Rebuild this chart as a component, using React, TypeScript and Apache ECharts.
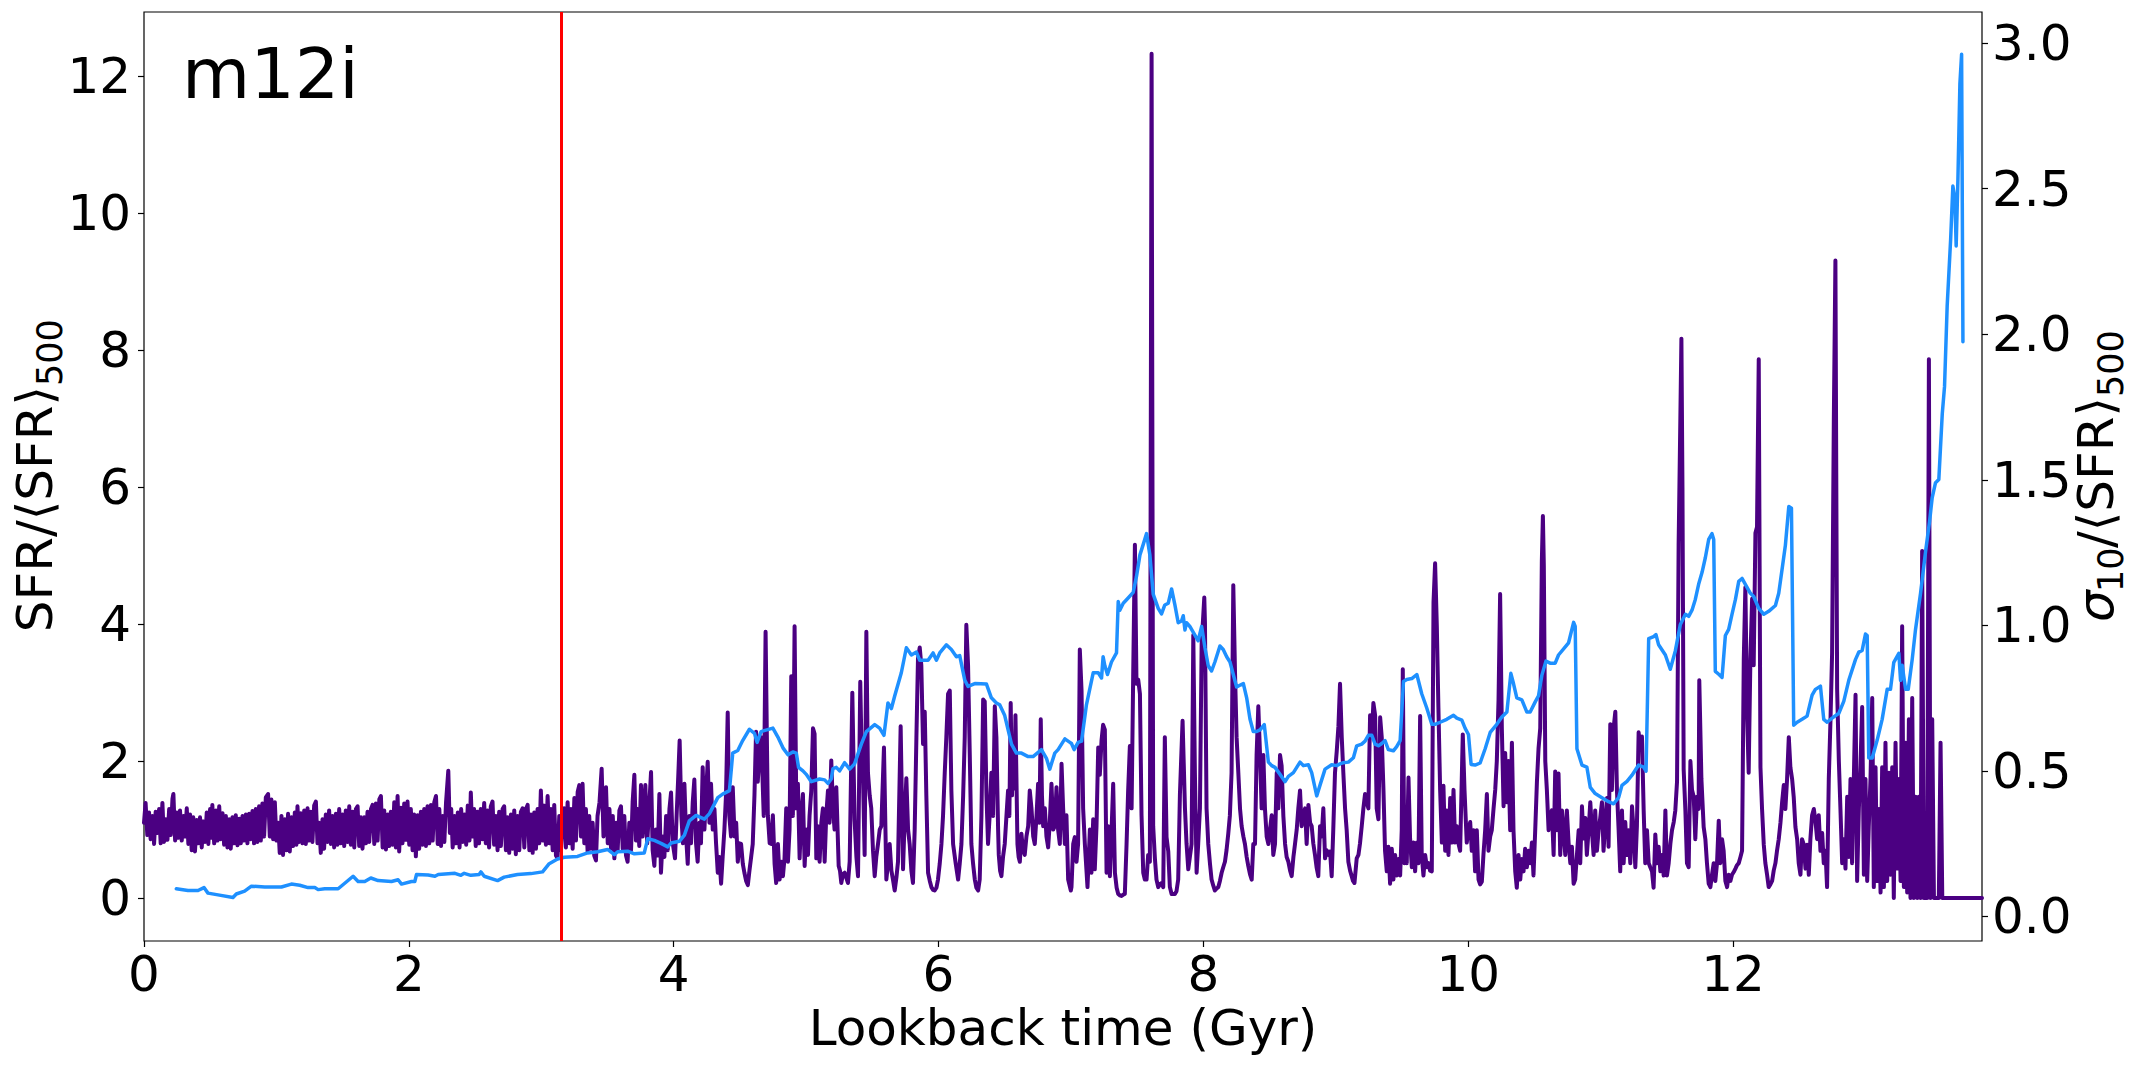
import React, { useEffect, useRef } from "react";
import * as echarts from "echarts";

const FONT = "'DejaVu Sans', sans-serif";

const xTicks = [0, 2, 4, 6, 8, 10, 12];
const leftTicks = [0, 2, 4, 6, 8, 10, 12];
const rightTicks = [0, 0.5, 1, 1.5, 2, 2.5, 3];
const xRange = [0, 13.88];
const leftRange = [-0.627, 12.94];
const rightRange = [-0.0845, 3.107];
const redLineX = 3.147;
const panelLabel = "m12i";
const xTitle = "Lookback time (Gyr)";

// SFR / <SFR>_500 (left axis)
const sfrA = [[0.000,1.10],[0.012,1.39],[0.025,0.92],[0.038,1.25],[0.050,0.86],[0.063,1.20],[0.076,0.79],[0.088,1.26],[0.101,0.95],[0.114,1.30],[0.126,0.80],[0.139,1.39],[0.151,0.82],[0.164,1.15],[0.177,0.85],[0.190,1.30],[0.202,0.92],[0.215,1.45],[0.222,1.52],[0.235,0.84],[0.248,1.25],[0.260,0.88],[0.272,1.28],[0.285,0.84],[0.298,1.20],[0.310,0.90],[0.323,1.31],[0.335,0.79],[0.348,1.22],[0.360,0.70],[0.372,1.18],[0.385,0.68],[0.398,1.14],[0.410,0.80],[0.423,1.18],[0.436,0.74],[0.448,1.12],[0.461,0.82],[0.474,1.25],[0.486,0.79],[0.499,1.30],[0.511,0.88],[0.516,1.36],[0.530,0.80],[0.543,1.28],[0.555,0.84],[0.568,1.34],[0.580,0.86],[0.593,1.24],[0.605,0.78],[0.618,1.20],[0.630,0.74],[0.643,1.15],[0.655,0.72],[0.668,1.18],[0.681,0.80],[0.693,1.21],[0.706,0.77],[0.719,1.16],[0.731,0.80],[0.744,1.20],[0.756,0.84],[0.769,1.22],[0.781,0.80],[0.794,1.23],[0.806,0.86],[0.819,1.27],[0.831,0.80],[0.844,1.30],[0.856,0.82],[0.869,1.34],[0.882,0.84],[0.894,1.38],[0.907,0.90],[0.920,1.47],[0.937,1.52],[0.950,0.90],[0.962,1.44],[0.975,0.86],[0.988,1.40],[1.000,0.84],[1.013,1.10],[1.025,0.66],[1.038,1.20],[1.050,0.63],[1.063,1.15],[1.076,0.70],[1.088,1.23],[1.101,0.68],[1.114,1.18],[1.126,0.76],[1.139,1.25],[1.151,0.78],[1.159,1.34],[1.172,0.82],[1.184,1.24],[1.197,0.80],[1.210,1.28],[1.222,0.79],[1.235,1.31],[1.247,0.84],[1.260,1.26],[1.272,0.82],[1.285,1.35],[1.298,1.41],[1.310,0.80],[1.322,1.10],[1.335,0.66],[1.348,1.15],[1.360,0.72],[1.373,1.22],[1.386,0.82],[1.398,1.28],[1.411,0.79],[1.423,1.20],[1.436,0.74],[1.449,1.23],[1.461,0.78],[1.474,1.30],[1.487,0.80],[1.499,1.22],[1.512,0.76],[1.524,1.28],[1.537,0.82],[1.550,1.34],[1.562,0.78],[1.575,1.26],[1.588,0.74],[1.600,1.30],[1.613,1.34],[1.625,0.76],[1.638,1.18],[1.650,0.72],[1.663,1.18],[1.676,0.80],[1.688,1.26],[1.701,0.82],[1.714,1.30],[1.726,1.36],[1.739,0.79],[1.751,1.38],[1.764,0.84],[1.777,1.44],[1.789,1.49],[1.802,0.74],[1.814,1.28],[1.827,0.71],[1.840,1.22],[1.852,0.76],[1.864,1.26],[1.877,0.78],[1.890,1.40],[1.902,0.74],[1.915,1.49],[1.927,0.68],[1.940,1.32],[1.952,0.80],[1.965,1.38],[1.977,0.85],[1.990,1.41],[2.003,0.78],[2.015,1.30],[2.028,0.70],[2.040,1.22],[2.053,0.61],[2.066,1.21],[2.078,0.72],[2.091,1.26],[2.103,0.78],[2.116,1.30],[2.129,0.76],[2.141,1.34],[2.154,0.80],[2.167,1.36],[2.180,0.84],[2.192,1.40],[2.205,1.49],[2.218,0.79],[2.230,1.30],[2.243,0.76],[2.256,1.20],[2.268,0.82],[2.281,1.40],[2.298,1.86],[2.310,0.95],[2.320,1.30],[2.331,0.74]];

const sfrB = [[2.345,1.20],[2.358,0.80],[2.370,1.25],[2.383,0.74],[2.395,1.30],[2.408,0.82],[2.420,1.22],[2.433,0.78],[2.445,1.35],[2.458,0.84],[2.468,1.54],[2.480,0.90],[2.493,1.30],[2.505,0.76],[2.518,1.26],[2.530,0.80],[2.543,1.30],[2.556,0.86],[2.569,1.39],[2.581,0.80],[2.594,1.28],[2.606,0.74],[2.619,1.34],[2.632,1.41],[2.644,0.78],[2.657,1.20],[2.670,0.70],[2.682,1.26],[2.695,0.76],[2.708,1.30],[2.720,1.34],[2.733,0.70],[2.745,1.18],[2.758,0.66],[2.771,1.22],[2.783,0.72],[2.796,1.28],[2.808,0.64],[2.821,1.20],[2.834,0.70],[2.846,1.26],[2.859,1.31],[2.872,0.74],[2.884,1.30],[2.897,1.36],[2.910,0.70],[2.922,1.22],[2.935,0.66],[2.947,1.25],[2.960,0.72],[2.972,1.30],[2.985,0.80],[2.997,1.57],[3.010,0.84],[3.023,1.35],[3.035,0.78],[3.048,1.49],[3.061,0.80],[3.073,1.30],[3.086,0.70],[3.098,1.36],[3.111,0.62],[3.123,0.58],[3.136,1.20],[3.149,0.70],[3.161,1.25],[3.174,1.31],[3.186,0.74],[3.199,1.40],[3.212,0.80],[3.224,1.30],[3.237,0.72],[3.250,1.46],[3.262,0.84],[3.275,1.55],[3.287,1.65],[3.300,0.90],[3.312,1.67],[3.325,0.80],[3.337,1.30],[3.350,0.68],[3.362,1.20],[3.375,0.72],[3.388,1.10],[3.400,0.62],[3.413,0.55],[3.425,1.20],[3.440,1.40],[3.456,1.89],[3.470,0.90],[3.489,1.62],[3.502,0.80],[3.515,1.30],[3.527,0.72],[3.540,1.20],[3.552,0.58],[3.565,1.10],[3.577,0.70],[3.590,1.28],[3.602,1.34],[3.615,0.72],[3.627,1.20],[3.640,0.62],[3.652,0.53],[3.665,1.10],[3.678,0.70],[3.690,1.40],[3.703,1.80],[3.715,0.84],[3.728,1.30],[3.740,0.76],[3.753,1.65],[3.766,0.90],[3.786,1.65],[3.800,0.80],[3.814,1.30],[3.829,1.84],[3.841,0.70],[3.854,0.47],[3.866,1.00],[3.879,0.62],[3.892,1.52],[3.904,0.37],[3.918,0.90],[3.930,0.60],[3.943,1.20],[3.955,0.70],[3.968,1.30],[3.980,1.54],[3.993,0.80],[4.010,0.58],[4.022,1.20],[4.035,1.80],[4.045,2.30],[4.058,1.20],[4.070,0.80],[4.081,1.67],[4.094,0.90],[4.106,0.50],[4.118,1.20],[4.131,0.80],[4.144,1.40],[4.156,1.73],[4.169,0.80],[4.181,0.53],[4.194,1.10],[4.206,0.80],[4.219,1.91],[4.232,1.00],[4.244,1.50],[4.257,1.99],[4.270,1.10],[4.282,1.67],[4.295,1.00],[4.308,1.30],[4.320,0.80],[4.333,0.37],[4.345,0.60],[4.358,0.21],[4.370,0.60],[4.383,1.00],[4.395,1.50],[4.408,2.71],[4.420,1.20],[4.433,0.90],[4.446,1.62],[4.460,0.90],[4.472,1.10],[4.484,0.53],[4.496,0.80],[4.509,0.79],[4.522,0.50],[4.534,0.37],[4.547,0.25],[4.560,0.19],[4.572,0.40],[4.585,0.60],[4.597,0.79],[4.610,1.50],[4.622,2.43],[4.635,1.70],[4.648,2.14]];

const sfrC = [[4.661,2.35],[4.680,1.20],[4.694,3.89],[4.711,1.21],[4.725,0.80],[4.737,0.79],[4.749,1.21],[4.762,0.50],[4.774,0.22],[4.787,0.79],[4.800,0.27],[4.812,0.53],[4.825,0.32],[4.837,0.58],[4.850,1.31],[4.863,0.53],[4.875,1.00],[4.888,3.24],[4.893,2.35],[4.900,1.20],[4.913,3.97],[4.926,1.31],[4.938,1.67],[4.951,0.58],[4.963,1.20],[4.976,1.52],[4.989,0.47],[5.001,1.00],[5.014,0.63],[5.026,1.20],[5.039,1.57],[5.052,2.48],[5.064,2.40],[5.077,0.58],[5.089,1.05],[5.102,0.53],[5.115,1.10],[5.127,1.31],[5.140,0.53],[5.152,1.20],[5.165,1.57],[5.177,1.10],[5.190,2.01],[5.203,1.31],[5.215,1.00],[5.228,1.62],[5.246,0.47],[5.256,0.40],[5.266,0.22],[5.278,0.35],[5.291,0.37],[5.303,0.30],[5.316,0.22],[5.329,0.53],[5.349,3.00],[5.366,1.15],[5.380,0.60],[5.392,0.32],[5.409,3.16],[5.417,2.35],[5.429,1.83],[5.442,0.63],[5.455,3.89],[5.467,1.83],[5.480,1.50],[5.492,1.31],[5.505,0.70],[5.518,0.32],[5.530,0.60],[5.543,0.79],[5.556,1.00],[5.568,1.05],[5.588,2.20],[5.606,0.27],[5.618,0.50],[5.631,0.79],[5.644,0.40],[5.656,0.27],[5.669,0.11],[5.682,0.30],[5.694,0.53],[5.714,2.51],[5.732,0.42],[5.745,1.20],[5.757,1.75],[5.770,1.00],[5.782,0.79],[5.795,0.40],[5.807,0.22],[5.820,1.00],[5.833,2.35],[5.845,3.50],[5.858,3.66],[5.870,3.40],[5.883,2.25],[5.896,2.72],[5.908,1.50],[5.921,0.37],[5.934,0.25],[5.946,0.16],[5.959,0.12],[5.971,0.11],[5.984,0.15],[5.996,0.27],[6.009,0.50],[6.022,0.79],[6.034,1.20],[6.047,1.83],[6.059,2.35],[6.072,2.98],[6.085,3.03],[6.097,1.57],[6.110,0.79],[6.130,0.50],[6.148,0.27],[6.160,0.50],[6.173,0.79],[6.186,1.50],[6.198,2.35],[6.210,3.99],[6.223,3.40],[6.236,2.09],[6.248,0.79],[6.261,0.50],[6.274,0.27],[6.286,0.15],[6.299,0.11],[6.311,0.27],[6.324,1.20],[6.337,2.90],[6.349,2.87],[6.362,1.50],[6.374,0.79],[6.386,1.20],[6.399,1.83],[6.412,1.20],[6.425,2.80],[6.437,2.35],[6.450,1.00],[6.455,0.63],[6.465,0.40],[6.475,0.32],[6.487,0.60],[6.500,0.79],[6.513,1.20],[6.525,1.57],[6.535,1.20],[6.545,2.85],[6.555,1.50],[6.563,2.35],[6.572,1.60],[6.581,2.67],[6.596,0.79],[6.605,0.60],[6.614,0.53],[6.626,0.94],[6.638,0.70],[6.651,0.63],[6.664,0.90],[6.677,1.05],[6.689,1.57],[6.702,1.31],[6.715,0.90],[6.727,0.79],[6.740,1.20],[6.752,1.67],[6.762,1.10],[6.772,2.61],[6.781,1.50],[6.790,1.05],[6.803,1.31],[6.815,0.90],[6.828,0.74],[6.840,1.10],[6.853,1.67],[6.866,1.00],[6.878,1.05],[6.891,1.62],[6.903,1.00],[6.916,0.79],[6.929,1.96],[6.941,1.31],[6.954,0.79],[6.966,1.21],[6.979,0.27],[6.999,0.11]];

const sfrD = [[7.004,0.16],[7.017,0.79],[7.029,0.89],[7.042,0.53],[7.054,0.79],[7.067,3.63],[7.080,3.03],[7.092,1.31],[7.105,0.79],[7.125,0.16],[7.143,1.00],[7.155,0.37],[7.168,1.15],[7.180,0.42],[7.193,1.05],[7.206,2.20],[7.218,1.80],[7.231,2.30],[7.243,2.53],[7.256,2.46],[7.269,0.37],[7.281,1.05],[7.294,0.32],[7.306,0.94],[7.319,1.67],[7.332,0.37],[7.345,0.15],[7.357,0.06],[7.370,0.04],[7.382,0.03],[7.395,0.05],[7.407,0.06],[7.420,0.79],[7.432,1.57],[7.445,2.22],[7.458,1.31],[7.470,3.24],[7.483,5.16],[7.495,3.13],[7.508,3.19],[7.521,2.98],[7.533,1.21],[7.546,0.37],[7.558,0.27],[7.571,0.27],[7.583,0.63],[7.596,0.53],[7.609,12.33],[7.621,1.05],[7.634,0.58],[7.646,0.27],[7.659,0.16],[7.672,0.20],[7.684,0.22],[7.697,0.16],[7.709,2.35],[7.722,0.89],[7.735,0.68],[7.747,0.16],[7.760,0.06],[7.772,0.06],[7.785,0.06],[7.797,0.10],[7.810,0.27],[7.823,1.52],[7.843,2.59],[7.861,1.31],[7.873,0.79],[7.886,0.42],[7.898,0.60],[7.911,0.79],[7.924,3.84],[7.936,1.83],[7.949,0.37],[7.961,0.79],[7.974,1.31],[7.987,3.71],[8.007,4.39],[8.012,4.02],[8.024,1.31],[8.037,0.79],[8.050,0.50],[8.062,0.27],[8.075,0.18],[8.087,0.11],[8.100,0.14],[8.113,0.16],[8.125,0.25],[8.138,0.37],[8.150,0.45],[8.163,0.53],[8.175,0.70],[8.188,0.94],[8.200,1.20],[8.213,1.83],[8.226,4.57],[8.239,3.29],[8.251,2.35],[8.264,1.83],[8.277,1.30],[8.289,1.05],[8.302,0.90],[8.314,0.79],[8.327,0.60],[8.339,0.47],[8.352,0.35],[8.365,0.27],[8.377,0.79],[8.390,0.79],[8.402,2.09],[8.415,2.80],[8.428,2.09],[8.440,1.31],[8.453,2.09],[8.465,1.31],[8.478,0.90],[8.491,0.79],[8.503,1.00],[8.516,1.21],[8.528,0.63],[8.541,0.79],[8.554,1.83],[8.566,1.31],[8.579,2.09],[8.591,1.93],[8.604,1.20],[8.617,0.79],[8.629,0.60],[8.642,0.53],[8.655,0.40],[8.667,0.32],[8.680,0.60],[8.692,0.79],[8.705,1.00],[8.717,1.31],[8.730,1.57],[8.742,1.05],[8.755,1.20],[8.768,1.31],[8.780,0.79],[8.793,1.36],[8.806,1.10],[8.818,1.05],[8.830,0.80],[8.843,0.63],[8.855,0.45],[8.868,0.32],[8.881,1.05],[8.893,0.90],[8.906,1.31],[8.919,0.58],[8.931,0.70],[8.944,0.63],[8.957,0.68],[8.969,0.32],[8.981,1.00],[8.994,1.83],[9.007,2.14],[9.020,2.51],[9.032,3.13],[9.045,2.35],[9.057,1.83],[9.070,1.31],[9.082,1.00],[9.095,0.53],[9.108,0.40],[9.120,0.32],[9.130,0.25],[9.141,0.22],[9.158,0.58],[9.171,0.63],[9.183,0.80],[9.196,1.05],[9.208,1.30],[9.221,1.52],[9.234,1.40],[9.246,1.31],[9.259,2.67],[9.272,2.35],[9.284,2.85],[9.297,2.67],[9.309,1.31],[9.322,1.15],[9.335,2.64],[9.347,2.35]];

const sfrE = [[9.360,1.58],[9.372,0.69],[9.385,0.39],[9.397,0.75],[9.410,0.21],[9.423,0.72],[9.435,0.27],[9.448,0.63],[9.460,0.33],[9.473,0.57],[9.486,0.33],[9.498,0.99],[9.506,3.34],[9.518,0.51],[9.528,0.99],[9.536,0.51],[9.549,1.76],[9.561,0.87],[9.574,0.45],[9.586,0.81],[9.599,0.39],[9.612,0.81],[9.624,0.51],[9.637,2.66],[9.649,0.63],[9.662,0.33],[9.675,0.63],[9.688,0.45],[9.700,0.51],[9.712,0.40],[9.725,0.39],[9.738,4.32],[9.750,4.89],[9.763,3.97],[9.775,2.78],[9.788,1.58],[9.801,0.81],[9.813,1.64],[9.826,0.69],[9.838,1.28],[9.851,0.63],[9.864,1.46],[9.876,0.81],[9.889,1.58],[9.901,0.81],[9.914,1.05],[9.926,0.80],[9.939,0.69],[9.959,2.39],[9.972,1.58],[9.989,0.81],[10.002,0.99],[10.015,1.11],[10.027,0.69],[10.040,0.99],[10.052,0.39],[10.065,0.99],[10.078,0.27],[10.090,0.20],[10.103,0.24],[10.115,0.63],[10.128,0.99],[10.141,1.52],[10.153,0.69],[10.166,0.90],[10.178,0.99],[10.191,1.30],[10.204,1.58],[10.216,2.00],[10.229,2.89],[10.241,4.44],[10.254,2.48],[10.267,1.34],[10.279,2.12],[10.292,1.40],[10.304,2.00],[10.317,0.99],[10.330,2.27],[10.342,0.99],[10.355,0.39],[10.367,0.15],[10.380,0.63],[10.393,0.27],[10.405,0.57],[10.418,0.39],[10.430,0.72],[10.443,0.45],[10.456,0.69],[10.468,0.51],[10.481,0.81],[10.493,0.33],[10.506,0.99],[10.519,1.70],[10.531,2.18],[10.544,2.48],[10.556,4.92],[10.564,5.58],[10.571,4.86],[10.582,2.00],[10.594,1.58],[10.607,0.99],[10.620,1.20],[10.632,1.28],[10.645,0.63],[10.657,1.85],[10.670,0.99],[10.682,1.82],[10.695,0.63],[10.708,1.28],[10.720,0.99],[10.733,0.63],[10.745,1.28],[10.758,0.81],[10.771,0.51],[10.783,0.75],[10.796,0.21],[10.808,0.27],[10.821,0.63],[10.834,0.99],[10.846,0.51],[10.859,1.34],[10.871,0.87],[10.884,1.17],[10.896,0.63],[10.909,0.99],[10.922,1.40],[10.934,0.99],[10.947,0.63],[10.959,1.28],[10.972,0.69],[10.985,0.99],[10.997,1.17],[11.010,1.40],[11.022,0.69],[11.035,1.11],[11.048,1.46],[11.060,0.75],[11.073,2.54],[11.085,1.58],[11.098,2.48],[11.111,2.72],[11.123,1.58],[11.136,0.99],[11.148,0.39],[11.161,1.28],[11.174,0.51],[11.186,1.11],[11.199,0.63],[11.211,0.99],[11.224,0.51],[11.237,1.34],[11.249,0.99],[11.262,0.45],[11.274,1.05],[11.287,2.42],[11.300,2.18],[11.312,2.36],[11.325,1.28],[11.337,0.51],[11.350,0.99],[11.363,0.51],[11.375,0.45],[11.388,0.39],[11.400,0.15],[11.413,0.93],[11.426,0.51],[11.438,0.75],[11.451,0.39],[11.463,0.63],[11.476,0.33],[11.489,1.28],[11.501,0.33],[11.514,0.51],[11.527,0.80],[11.539,0.99],[11.552,1.11],[11.564,1.28],[11.577,1.70],[11.589,5.16],[11.602,7.00],[11.610,8.17],[11.618,6.00],[11.627,1.88],[11.640,1.28],[11.652,0.51],[11.665,0.45],[11.678,2.00],[11.690,1.58]];

const sfrF = [[11.703,1.48],[11.715,0.86],[11.728,1.48],[11.740,1.30],[11.745,3.18],[11.761,1.74],[11.778,1.04],[11.791,0.86],[11.803,0.51],[11.816,0.21],[11.829,0.16],[11.841,0.34],[11.854,0.51],[11.866,0.25],[11.879,0.51],[11.892,1.13],[11.904,0.51],[11.917,0.86],[11.929,0.69],[11.942,0.25],[11.955,0.16],[11.967,0.34],[11.980,0.25],[11.992,0.34],[12.005,0.38],[12.018,0.43],[12.030,0.48],[12.043,0.51],[12.056,0.60],[12.068,0.69],[12.081,3.49],[12.093,4.54],[12.106,2.70],[12.118,1.83],[12.131,3.49],[12.144,4.37],[12.156,3.40],[12.169,5.33],[12.181,5.42],[12.194,7.87],[12.207,1.91],[12.219,1.30],[12.232,0.78],[12.244,0.51],[12.257,0.34],[12.269,0.16],[12.282,0.20],[12.295,0.25],[12.307,0.40],[12.320,0.51],[12.332,0.69],[12.345,0.86],[12.358,1.10],[12.370,1.39],[12.383,1.65],[12.395,1.30],[12.408,1.74],[12.421,2.35],[12.433,1.91],[12.446,1.74],[12.458,1.48],[12.471,1.04],[12.484,0.86],[12.496,0.51],[12.509,0.34],[12.521,0.86],[12.534,0.78],[12.547,0.43],[12.559,0.78],[12.572,0.34],[12.584,0.86],[12.597,1.21],[12.610,1.30],[12.622,1.13],[12.635,0.86],[12.647,1.21],[12.660,0.69],[12.673,0.95],[12.685,0.51],[12.698,0.69],[12.710,0.16],[12.723,1.74],[12.736,2.61],[12.748,3.58],[12.761,6.99],[12.773,9.31],[12.786,3.05],[12.799,2.00],[12.811,1.30],[12.824,0.51],[12.836,0.86],[12.849,0.43],[12.862,1.48],[12.874,0.60],[12.887,1.74],[12.899,0.51],[12.912,1.74],[12.925,2.97],[12.937,0.25],[12.950,1.30],[12.962,1.91],[12.975,2.79],[12.988,0.34],[13.000,1.74],[13.013,0.25],[13.025,1.04],[13.038,1.74],[13.051,2.92],[13.063,0.16],[13.076,1.91],[13.088,0.25],[13.101,1.30],[13.114,0.08],[13.126,1.91],[13.139,0.16],[13.151,2.27],[13.164,0.25],[13.177,1.83],[13.189,0.34],[13.202,1.91],[13.214,0.00],[13.227,2.27],[13.240,0.43],[13.252,1.74],[13.265,0.25],[13.277,3.97],[13.290,0.16],[13.303,2.27],[13.315,0.08],[13.328,2.61],[13.340,0.00],[13.353,2.92],[13.365,0.00],[13.378,1.48],[13.391,0.00],[13.403,1.48],[13.416,0.00],[13.428,5.07],[13.441,0.00],[13.454,0.00],[13.466,0.00],[13.479,7.87],[13.491,0.00],[13.504,2.61],[13.517,0.00],[13.554,0.00],[13.567,2.27],[13.580,0.00],[13.880,0.00]];

// sigma_10 / <SFR>_500 (right axis)
const sigmaA = [[0.244,0.095],[0.332,0.089],[0.408,0.089],[0.453,0.099],[0.483,0.080],[0.559,0.074],[0.672,0.065],[0.697,0.077],[0.760,0.087],[0.811,0.104],[0.912,0.101],[1.038,0.101],[1.113,0.111],[1.176,0.107],[1.239,0.099],[1.290,0.099],[1.315,0.092],[1.365,0.095],[1.466,0.095],[1.516,0.114],[1.579,0.138],[1.617,0.120],[1.667,0.120],[1.713,0.132],[1.768,0.123],[1.869,0.120],[1.919,0.126],[1.945,0.111],[2.020,0.120],[2.045,0.120],[2.058,0.144],[2.146,0.142],[2.197,0.138],[2.222,0.144],[2.348,0.148]];
const sigmaB = [[2.393,0.141],[2.418,0.148],[2.468,0.141],[2.531,0.144],[2.544,0.153],[2.569,0.138],[2.670,0.123],[2.720,0.135],[2.821,0.144],[2.922,0.147],[3.010,0.153],[3.060,0.181],[3.123,0.197],[3.174,0.203],[3.274,0.206],[3.350,0.218],[3.426,0.222],[3.501,0.230],[3.552,0.212],[3.577,0.222],[3.652,0.224],[3.703,0.215],[3.778,0.218],[3.804,0.267],[3.854,0.261],[3.904,0.251],[3.955,0.239],[3.980,0.252],[4.043,0.258],[4.081,0.279],[4.118,0.328],[4.169,0.347],[4.232,0.334],[4.270,0.353],[4.333,0.408],[4.370,0.420],[4.421,0.432],[4.446,0.561],[4.484,0.570],[4.521,0.604],[4.572,0.643],[4.610,0.629],[4.630,0.598],[4.660,0.635]];
const sigmaC = [[4.749,0.647],[4.787,0.616],[4.825,0.579],[4.863,0.555],[4.900,0.565],[4.926,0.561],[4.943,0.512],[4.976,0.500],[5.001,0.488],[5.039,0.463],[5.102,0.472],[5.140,0.469],[5.165,0.457],[5.190,0.472],[5.203,0.508],[5.228,0.512],[5.253,0.500],[5.291,0.528],[5.329,0.506],[5.366,0.524],[5.417,0.592],[5.455,0.635],[5.518,0.659],[5.555,0.647],[5.588,0.622],[5.618,0.733],[5.644,0.714],[5.669,0.757],[5.719,0.837],[5.757,0.923],[5.795,0.898],[5.833,0.908],[5.858,0.880],[5.921,0.880],[5.959,0.905],[5.984,0.880],[6.009,0.905],[6.059,0.933],[6.097,0.917],[6.135,0.892],[6.160,0.896],[6.198,0.812],[6.223,0.790],[6.274,0.800],[6.362,0.798],[6.399,0.751],[6.437,0.733],[6.462,0.727],[6.500,0.690],[6.551,0.592],[6.588,0.561],[6.626,0.561],[6.677,0.549],[6.714,0.549],[6.777,0.573],[6.815,0.543],[6.840,0.506],[6.878,0.561],[6.903,0.573],[6.954,0.610],[6.992,0.598],[7.004,0.594]];
const sigmaD = [[7.024,0.573],[7.054,0.598],[7.080,0.602],[7.117,0.727],[7.168,0.837],[7.206,0.837],[7.231,0.819],[7.243,0.892],[7.256,0.861],[7.276,0.831],[7.306,0.874],[7.344,0.905],[7.357,1.082],[7.369,1.052],[7.395,1.076],[7.432,1.094],[7.470,1.113],[7.495,1.168],[7.521,1.242],[7.546,1.278],[7.571,1.315],[7.596,1.242],[7.621,1.107],[7.659,1.058],[7.684,1.039],[7.709,1.070],[7.735,1.076],[7.760,1.125],[7.785,1.070],[7.810,1.009],[7.835,1.015],[7.848,1.033],[7.861,0.984],[7.873,1.009],[7.898,0.996],[7.936,0.966],[7.961,0.947],[7.987,0.996],[8.012,0.923],[8.037,0.861],[8.062,0.843],[8.087,0.874],[8.125,0.929],[8.150,0.917],[8.176,0.892],[8.201,0.874],[8.226,0.831],[8.251,0.788],[8.276,0.794],[8.302,0.800],[8.327,0.751],[8.352,0.678],[8.377,0.635],[8.402,0.635],[8.428,0.641],[8.460,0.659],[8.491,0.530],[8.516,0.518],[8.541,0.512],[8.579,0.488],[8.617,0.463],[8.642,0.481],[8.680,0.494],[8.705,0.512],[8.730,0.530],[8.755,0.518],[8.793,0.521],[8.818,0.494],[8.856,0.414],[8.881,0.451],[8.919,0.506],[8.969,0.521],[9.007,0.518],[9.032,0.524],[9.057,0.528],[9.095,0.530],[9.133,0.545],[9.158,0.586],[9.196,0.592],[9.221,0.602],[9.246,0.622],[9.272,0.622],[9.297,0.592],[9.322,0.586],[9.347,0.594]];
const sigmaE = [[9.372,0.604],[9.397,0.573],[9.435,0.569],[9.460,0.583],[9.486,0.604],[9.511,0.807],[9.536,0.814],[9.574,0.817],[9.612,0.831],[9.649,0.765],[9.687,0.716],[9.725,0.660],[9.750,0.660],[9.788,0.667],[9.838,0.677],[9.889,0.691],[9.914,0.681],[9.952,0.674],[9.977,0.646],[10.002,0.625],[10.022,0.522],[10.052,0.520],[10.090,0.527],[10.128,0.576],[10.166,0.632],[10.216,0.660],[10.254,0.685],[10.292,0.702],[10.322,0.835],[10.342,0.800],[10.367,0.751],[10.405,0.744],[10.443,0.702],[10.468,0.702],[10.506,0.737],[10.531,0.758],[10.556,0.828],[10.587,0.877],[10.619,0.870],[10.657,0.870],[10.682,0.898],[10.733,0.926],[10.758,0.940],[10.796,1.010],[10.808,0.996],[10.821,0.576],[10.859,0.520],[10.896,0.513],[10.922,0.443],[10.959,0.422],[11.010,0.408],[11.060,0.394],[11.098,0.387],[11.136,0.408],[11.161,0.450],[11.199,0.464],[11.237,0.485],[11.287,0.520],[11.325,0.513],[11.343,0.499],[11.363,0.954],[11.400,0.961],[11.418,0.968],[11.438,0.933],[11.489,0.898],[11.526,0.849],[11.564,0.912],[11.602,1.003],[11.640,1.038],[11.665,1.031],[11.690,1.052]];
const sigmaF = [[11.715,1.089],[11.740,1.141],[11.766,1.182],[11.791,1.233],[11.816,1.295],[11.841,1.315],[11.854,1.295],[11.866,0.842],[11.892,0.832],[11.917,0.821],[11.942,0.965],[11.967,0.986],[11.992,1.038],[12.018,1.089],[12.043,1.151],[12.068,1.161],[12.093,1.141],[12.131,1.110],[12.156,1.099],[12.194,1.058],[12.232,1.038],[12.269,1.048],[12.320,1.068],[12.345,1.110],[12.370,1.192],[12.395,1.274],[12.421,1.408],[12.441,1.402],[12.458,0.657],[12.484,0.667],[12.521,0.677],[12.559,0.688],[12.597,0.760],[12.622,0.780],[12.660,0.791],[12.685,0.677],[12.710,0.667],[12.748,0.681],[12.799,0.698],[12.836,0.739],[12.874,0.811],[12.925,0.883],[12.950,0.908],[12.975,0.914],[13.000,0.970],[13.013,0.965],[13.025,0.544],[13.051,0.544],[13.088,0.605],[13.126,0.677],[13.164,0.780],[13.189,0.780],[13.214,0.873],[13.252,0.904],[13.265,0.811],[13.277,0.863],[13.303,0.780],[13.323,0.780],[13.353,0.883],[13.378,0.986],[13.416,1.110],[13.454,1.254],[13.484,1.357],[13.504,1.439],[13.529,1.490],[13.554,1.501],[13.580,1.727],[13.597,1.820],[13.617,2.097],[13.643,2.324],[13.660,2.509],[13.675,2.468],[13.685,2.303],[13.698,2.530],[13.713,2.859],[13.726,2.962],[13.736,1.974]];

const sfrData = [...sfrA, ...sfrB, ...sfrC, ...sfrD, ...sfrE, ...sfrF];
const sigmaData = [...sigmaA, ...sigmaB, ...sigmaC, ...sigmaD, ...sigmaE, ...sigmaF];

function txt(text: string, x: number, y: number, size: number, align: string, extra: any = {}) {
  return {
    type: "text",
    silent: true,
    style: {
      text, x, y,
      fontSize: size,
      fontFamily: FONT,
      fill: "#000",
      align, textAlign: align,
      verticalAlign: "middle", textVerticalAlign: "middle",
      ...extra,
    },
  };
}

export default function App() {
  const ref = useRef<HTMLDivElement>(null);
  useEffect(() => {
    document.body.style.margin = "0";
    const chart = echarts.init(ref.current!, null, { renderer: "svg" });
    const tickStyle = { color: "#000", width: 1.2 };
    const labelBase = { fontSize: 50, color: "#000", fontFamily: FONT };
    chart.setOption({
      animation: false,
      backgroundColor: "#fff",
      grid: {
        left: 144, right: 159, top: 12, bottom: 126,
        show: true, borderColor: "#000", borderWidth: 1.2, backgroundColor: "transparent",
      },
      xAxis: {
        type: "value", min: xRange[0], max: xRange[1],
        axisLine: { show: false, onZero: false },
        splitLine: { show: false },
        axisTick: { show: true, length: 6, lineStyle: tickStyle, customValues: xTicks },
        axisLabel: { ...labelBase, margin: 8, customValues: xTicks, formatter: (v: number) => String(v) },
      },
      yAxis: [
        {
          type: "value", position: "left", min: leftRange[0], max: leftRange[1],
          axisLine: { show: false, onZero: false },
          splitLine: { show: false },
          axisTick: { show: true, length: 6, lineStyle: tickStyle, customValues: leftTicks },
          axisLabel: { ...labelBase, margin: 13, customValues: leftTicks, formatter: (v: number) => String(v) },
        },
        {
          type: "value", position: "right", min: rightRange[0], max: rightRange[1],
          axisLine: { show: false, onZero: false },
          splitLine: { show: false },
          axisTick: { show: true, length: 6, lineStyle: tickStyle, customValues: rightTicks },
          axisLabel: { ...labelBase, margin: 10, customValues: rightTicks, formatter: (v: number) => v.toFixed(1) },
        },
      ],
      series: [
        {
          type: "line", yAxisIndex: 0, data: sfrData, showSymbol: false, symbol: "none",
          silent: true, z: 2,
          lineStyle: { color: "#4B0082", width: 4, join: "round", cap: "round" },
        },
        {
          type: "line", yAxisIndex: 1, data: sigmaData, showSymbol: false, symbol: "none",
          silent: true, z: 3,
          lineStyle: { color: "#1E90FF", width: 3.5, join: "round", cap: "round" },
        },
        {
          type: "line", yAxisIndex: 0, data: [], z: 5, silent: true,
          markLine: {
            silent: true, symbol: ["none", "none"], label: { show: false },
            lineStyle: { color: "#FF0000", width: 3, type: "solid" },
            data: [{ xAxis: redLineX }],
          },
        },
      ],
      graphic: [
        txt(panelLabel, 182, 73.5, 70, "left"),
        txt(xTitle, 1063, 1028, 50, "center"),
        {
          type: "group", x: 35, y: 476, rotation: Math.PI / 2, silent: true,
          children: [
            txt("SFR/\u27E8SFR\u27E9", 90, 0, 50, "right"),
            txt("500", 90, 15, 35, "left"),
          ],
        },
        {
          type: "group", x: 2096, y: 476, rotation: Math.PI / 2, silent: true,
          children: [
            txt("\u03C3", -146, 0, 50, "left", { fontStyle: "italic" }),
            txt("10", -116, 15, 35, "left"),
            txt("/\u27E8SFR\u27E9", -72, 0, 50, "left"),
            txt("500", 79, 15, 35, "left"),
          ],
        },
      ],
    });
    return () => chart.dispose();
  }, []);
  return <div ref={ref} style={{ width: 2141, height: 1067 }} />;
}
